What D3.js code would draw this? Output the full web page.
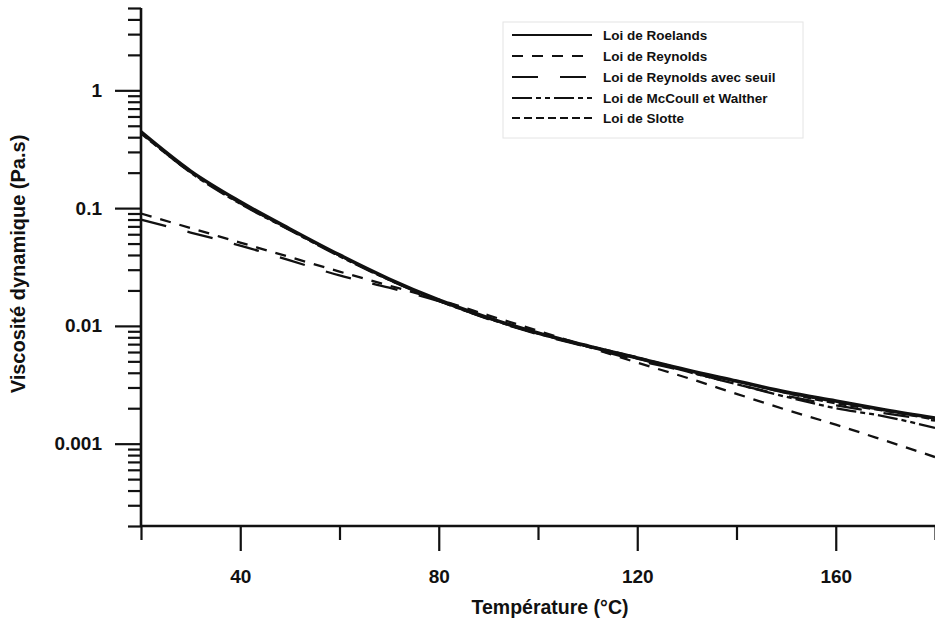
<!DOCTYPE html>
<html>
<head>
<meta charset="utf-8">
<script src="https://cdn.jsdelivr.net/npm/d3@7"></script>
<style>
  body { margin: 0; background: #fff; }
  svg { display: block; }
</style>
</head>
<body>
<div class="root"></div>
<script>
// Temperatures (°C) at which the curves were read
var temps = [20, 30, 40, 50, 60, 70, 80, 90, 100, 110, 120, 130, 140, 150, 160, 170, 180];

// Viscosity values (Pa.s)
var roelands = [0.443, 0.206, 0.113, 0.0665, 0.0400, 0.0250, 0.0166, 0.0117, 0.0087, 0.00675, 0.00534, 0.00422, 0.0034, 0.00274, 0.0023, 0.00193, 0.00165];
var reynolds = [0.090, 0.0677, 0.0510, 0.0384, 0.0289, 0.0220, 0.0167, 0.0123, 0.0091, 0.00665, 0.00487, 0.00363, 0.00265, 0.00194, 0.00145, 0.00106, 0.00077];
var reynoldsSeuil = [0.080, 0.0620, 0.0481, 0.0360, 0.0268, 0.0211, 0.0162, 0.0114, 0.0085, 0.0066, 0.0051, 0.0041, 0.0032, 0.00255, 0.00212, 0.00181, 0.00157];
var mccoull = [0.44, 0.200, 0.109, 0.065, 0.039, 0.0245, 0.0163, 0.0115, 0.0086, 0.0067, 0.0053, 0.0041, 0.0032, 0.0025, 0.0020, 0.0017, 0.00136];
var slotte = [0.43, 0.202, 0.110, 0.0655, 0.0395, 0.0247, 0.0164, 0.0116, 0.0087, 0.0068, 0.0054, 0.0042, 0.0034, 0.0027, 0.0022, 0.0019, 0.0016];

var seriesNames = ["Loi de Roelands", "Loi de Reynolds", "Loi de Reynolds avec seuil", "Loi de McCoull et Walther", "Loi de Slotte"];

// Tick labels
var xMajorTicks = [40, 80, 120, 160];
var xMinorTicks = [20, 60, 100, 140, 180];
var yMajorTicks = [0.001, 0.01, 0.1, 1];
var yMajorLabels = ["0.001", "0.01", "0.1", "1"];

var W = 935, H = 621;
// plot edges (window.top is reserved, so use other names)
var plotLeft = 141, plotRight = 935, plotTop = 8, plotBottom = 526;

var svg = d3.select(".root").append("svg")
    .attr("width", W)
    .attr("height", H)
    .attr("font-family", "'Liberation Sans', Arial, sans-serif");

var xScale = d3.scaleLinear().domain([20, 180]).range([plotLeft, plotRight]);
var yScale = d3.scaleLog().domain([0.0002, 5]).range([plotBottom, plotTop]);

var ink = "#111";

// Y axis: minor ticks (2..9 multiples), then major decades with labels
var yMinor = yScale.ticks().filter(function (d) {
    return !yMajorTicks.some(function (m) { return Math.abs(m - d) / m < 1e-6; });
});
svg.append("g")
    .attr("transform", "translate(" + plotLeft + ",0)")
    .call(d3.axisLeft(yScale).tickValues(yMinor).tickSize(13).tickFormat(""))
    .call(function (g) { g.select(".domain").remove(); });

svg.append("g")
    .attr("transform", "translate(" + plotLeft + ",0)")
    .call(d3.axisLeft(yScale).tickValues(yMajorTicks).tickSize(26).tickPadding(13)
        .tickFormat(function (d, i) { return yMajorLabels[i]; }))
    .call(function (g) { g.select(".domain").remove(); });

// X axis: minor and major ticks
svg.append("g")
    .attr("transform", "translate(0," + plotBottom + ")")
    .call(d3.axisBottom(xScale).tickValues(xMinorTicks).tickSize(14).tickFormat(""))
    .call(function (g) { g.select(".domain").remove(); });

svg.append("g")
    .attr("transform", "translate(0," + plotBottom + ")")
    .call(d3.axisBottom(xScale).tickValues(xMajorTicks).tickSize(25).tickPadding(19)
        .tickFormat(d3.format("d")))
    .call(function (g) { g.select(".domain").remove(); });

svg.selectAll(".tick line")
    .attr("stroke", ink)
    .attr("stroke-width", 2.2);
svg.selectAll(".tick text")
    .attr("fill", ink)
    .attr("font-size", 19)
    .attr("font-weight", 700);

// Axis lines
svg.append("line")
    .attr("x1", plotLeft).attr("x2", plotLeft)
    .attr("y1", plotTop).attr("y2", plotBottom)
    .attr("stroke", ink).attr("stroke-width", 2.6);
svg.append("line")
    .attr("x1", plotLeft).attr("x2", plotRight)
    .attr("y1", plotBottom).attr("y2", plotBottom)
    .attr("stroke", ink).attr("stroke-width", 2.6);

// Curves
var styles = [
    { data: roelands, dash: null, width: 3.6 },
    { data: reynolds, dash: "11,9", width: 2.3 },
    { data: reynoldsSeuil, dash: "26,22", width: 2.3 },
    { data: mccoull, dash: "20,4,5,4,5,4", width: 2.3 },
    { data: slotte, dash: "8,4", width: 2.3 }
];

var line = d3.line()
    .x(function (d) { return xScale(d[0]); })
    .y(function (d) { return yScale(d[1]); })
    .curve(d3.curveMonotoneX);

styles.forEach(function (s) {
    svg.append("path")
        .datum(temps.map(function (t, i) { return [t, s.data[i]]; }))
        .attr("fill", "none")
        .attr("stroke", ink)
        .attr("stroke-width", s.width)
        .attr("stroke-dasharray", s.dash)
        .attr("d", line);
});

// Legend
var legend = svg.append("g");
legend.append("rect")
    .attr("x", 503).attr("y", 22)
    .attr("width", 300).attr("height", 116)
    .attr("fill", "none")
    .attr("stroke", "#e4e4e4")
    .attr("stroke-width", 1);

var rowY = [35, 56, 77, 98, 118];
seriesNames.forEach(function (name, i) {
    legend.append("line")
        .attr("x1", 512).attr("x2", 592)
        .attr("y1", rowY[i]).attr("y2", rowY[i])
        .attr("stroke", ink)
        .attr("stroke-width", 2)
        .attr("stroke-dasharray", styles[i].dash);
    legend.append("text")
        .attr("x", 603)
        .attr("y", rowY[i] + 5)
        .attr("font-size", 13.5)
        .attr("font-weight", 700)
        .attr("fill", ink)
        .text(name);
});

// Axis titles
svg.append("text")
    .attr("x", 550)
    .attr("y", 614)
    .attr("text-anchor", "middle")
    .attr("font-size", 19.5)
    .attr("font-weight", 700)
    .attr("fill", ink)
    .text("Température (°C)");

svg.append("text")
    .attr("transform", "translate(25,264) rotate(-90)")
    .attr("text-anchor", "middle")
    .attr("font-size", 20)
    .attr("font-weight", 700)
    .attr("fill", ink)
    .text("Viscosité dynamique (Pa.s)");
</script>
</body>
</html>
